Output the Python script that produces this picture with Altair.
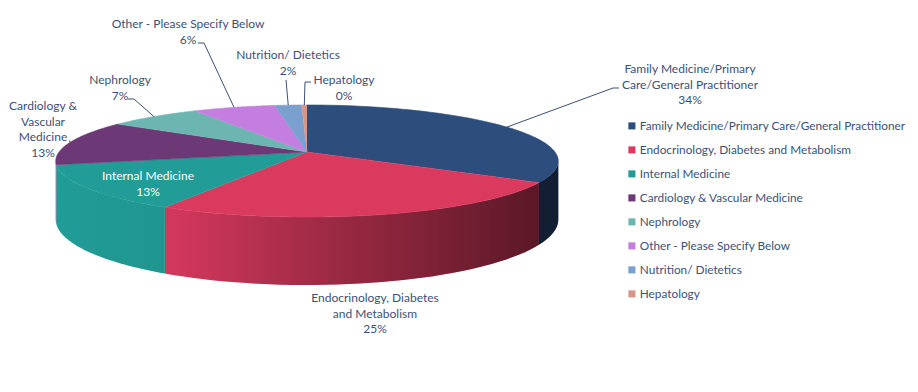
import math
import altair as alt
import pandas as pd

# ---------------- data ----------------
categories = [
    "Family Medicine/Primary Care/General Practitioner",
    "Endocrinology, Diabetes and Metabolism",
    "Internal Medicine",
    "Cardiology & Vascular Medicine",
    "Nephrology",
    "Other - Please Specify Below",
    "Nutrition/ Dietetics",
    "Hepatology",
]
shares = [33.6, 24.6, 13.2, 13.0, 7.0, 6.2, 2.0, 0.4]
colors = ["#2d4d7c", "#db3a5f", "#219c96", "#6d3876", "#6db5b0", "#c47ee0", "#7aa0d0", "#d9958a"]

# wrapped label names (percent appended from data)
label_names = [
    "Family Medicine/Primary\nCare/General Practitioner",
    "Endocrinology, Diabetes\nand Metabolism",
    "Internal Medicine",
    "Cardiology &\nVascular\nMedicine",
    "Nephrology",
    "Other - Please Specify Below",
    "Nutrition/ Dietetics",
    "Hepatology",
]

# ---------------- layout (pixel space of the page) ----------------
label_x = [690, 375, 148, 43, 120, 188, 288, 344]
label_y = [69, 298, 176, 106, 80, 24, 55, 80]
label_col = ["#3b5179"] * 8
label_col[2] = "#ffffff"
has_leader = [1, 0, 0, 1, 1, 1, 1, 1]
bend_x = [613, 0, 0, 70, 134, 204, 286, 305]
bend_y = [88, 0, 0, 141, 99, 43, 80, 82]
end_x = [619, 0, 0, 69, 128, 198, 286, 311]
end_y = [88, 0, 0, 141, 99, 43, 80, 82]

TXT = "#3b5179"
FONT = "Lato"
CX, CY = 307, 152      # projected centre of pie top
A, S, K = 248, 54.6, 0.161   # half width, half height, perspective factor
D = 57                  # thickness
TL = math.acos(-K)
TR = 2 * math.pi - TL

W, H = 902, 376
xs = alt.Scale(domain=[8, 8 + W], nice=False, zero=False)
ys = alt.Scale(domain=[8, 8 + H], nice=False, zero=False, reverse=True)

src = pd.DataFrame({"cat": categories, "share": shares, "idx": list(range(len(categories)))})
lab_df = pd.DataFrame({
    "cat": categories,
    "text": [f"{n}\n{round(v)}%" for n, v in zip(label_names, shares)],
    "lx": label_x, "ly": label_y, "col": label_col,
    "has": has_leader, "bx": bend_x, "by": bend_y, "ex": end_x, "ey": end_y,
})

cscale = alt.Scale(domain=categories, range=colors)
leg = alt.Legend(
    orient="none", legendX=618, legendY=112, title=None, symbolType="square",
    symbolSize=50, symbolStrokeWidth=0, labelFontSize=11.8, labelFont=FONT,
    labelColor=TXT, rowPadding=11, labelOffset=2, padding=0, labelLimit=500,
)

base = (
    alt.Chart(src)
    .transform_window(cum="sum(share)", sort=[alt.SortField("idx")], frame=[None, 0])
    .transform_joinaggregate(total="sum(share)")
    .transform_calculate(
        t1="2*PI*datum.cum/datum.total",
        t0="2*PI*(datum.cum-datum.share)/datum.total",
    )
)

# side wall
side_data = (
    base.transform_calculate(s0=f"max(datum.t0,{TL})", s1=f"min(datum.t1,{TR})")
    .transform_filter("datum.s1 > datum.s0")
    .transform_calculate(i="sequence(0,41)")
    .transform_flatten(["i"])
    .transform_calculate(th="datum.s0+(datum.s1-datum.s0)*datum.i/40")
    .transform_calculate(den=f"1+{K}*cos(datum.th)")
    .transform_calculate(
        px=f"{CX}+{A}*sin(datum.th)/datum.den",
        py=f"{CY}-{S}*cos(datum.th)/datum.den",
    )
    .transform_calculate(py2=f"datum.py+{D}/datum.den")
)
side = side_data.mark_area(strokeWidth=0).encode(
    x=alt.X("px:Q", scale=xs, axis=None),
    y=alt.Y("py:Q", scale=ys, axis=None),
    y2="py2:Q",
    color=alt.Color("cat:N", scale=cscale, legend=leg),
    detail="cat:N",
)
shade_grad = alt.Gradient(
    gradient="linear",
    stops=[
        alt.GradientStop(color="rgba(0,0,0,0)", offset=0),
        alt.GradientStop(color="rgba(0,0,0,0.05)", offset=0.25),
        alt.GradientStop(color="rgba(0,0,0,0.25)", offset=0.5),
        alt.GradientStop(color="rgba(0,0,0,0.45)", offset=0.78),
        alt.GradientStop(color="rgba(0,0,0,0.62)", offset=1),
    ],
    x1=0, x2=1, y1=0, y2=0,
)
shade = side_data.mark_area(color=shade_grad, strokeWidth=0).encode(
    x=alt.X("px:Q", scale=xs, axis=None),
    y=alt.Y("py:Q", scale=ys, axis=None),
    y2="py2:Q",
)

# top face
top = (
    base.transform_calculate(i="sequence(0,62)")
    .transform_flatten(["i"])
    .transform_calculate(th="datum.t0+(datum.t1-datum.t0)*(datum.i-1)/60")
    .transform_calculate(den=f"1+{K}*cos(datum.th)")
    .transform_calculate(
        px=f"datum.i==0 ? {CX} : {CX}+{A}*sin(datum.th)/datum.den",
        py=f"datum.i==0 ? {CY} : {CY}-{S}*cos(datum.th)/datum.den",
    )
    .mark_line(filled=True, strokeWidth=0.6)
    .encode(
        x=alt.X("px:Q", scale=xs, axis=None),
        y=alt.Y("py:Q", scale=ys, axis=None),
        color=alt.Color("cat:N", scale=cscale, legend=leg),
        stroke=alt.Stroke("cat:N", scale=cscale, legend=None),
        detail="cat:N",
        order="i:Q",
    )
)

# leader lines
leaders = (
    base.transform_calculate(mid="(datum.t0+datum.t1)/2")
    .transform_calculate(den=f"1+{K}*cos(datum.mid)")
    .transform_calculate(
        sx=f"{CX}+{A}*sin(datum.mid)/datum.den",
        sy=f"{CY}-{S}*cos(datum.mid)/datum.den",
    )
    .transform_lookup(lookup="cat", from_=alt.LookupData(lab_df, "cat", ["has", "bx", "by", "ex", "ey"]))
    .transform_filter("datum.has == 1")
    .transform_calculate(i="sequence(0,3)")
    .transform_flatten(["i"])
    .transform_calculate(
        lx="datum.i==0 ? datum.sx : (datum.i==1 ? datum.bx : datum.ex)",
        ly="datum.i==0 ? datum.sy : (datum.i==1 ? datum.by : datum.ey)",
    )
    .mark_line(color=TXT, strokeWidth=1)
    .encode(
        x=alt.X("lx:Q", scale=xs, axis=None),
        y=alt.Y("ly:Q", scale=ys, axis=None),
        detail="cat:N",
        order="i:Q",
    )
)

labels = alt.Chart(lab_df).mark_text(
    lineBreak="\n", fontSize=12, font=FONT, align="center", baseline="middle", lineHeight=15.5
).encode(
    x=alt.X("lx:Q", scale=xs, axis=None),
    y=alt.Y("ly:Q", scale=ys, axis=None),
    text="text:N",
    color=alt.Color("col:N", scale=None),
)

chart = (
    alt.layer(side, shade, top, leaders, labels)
    .properties(width=W, height=H, autosize=alt.AutoSizeParams(type="none"), padding=0)
    .configure(background="white")
    .configure_view(strokeWidth=0, stroke=None)
)

chart.save("out.html", embed_options={"renderer": "svg", "actions": False})
